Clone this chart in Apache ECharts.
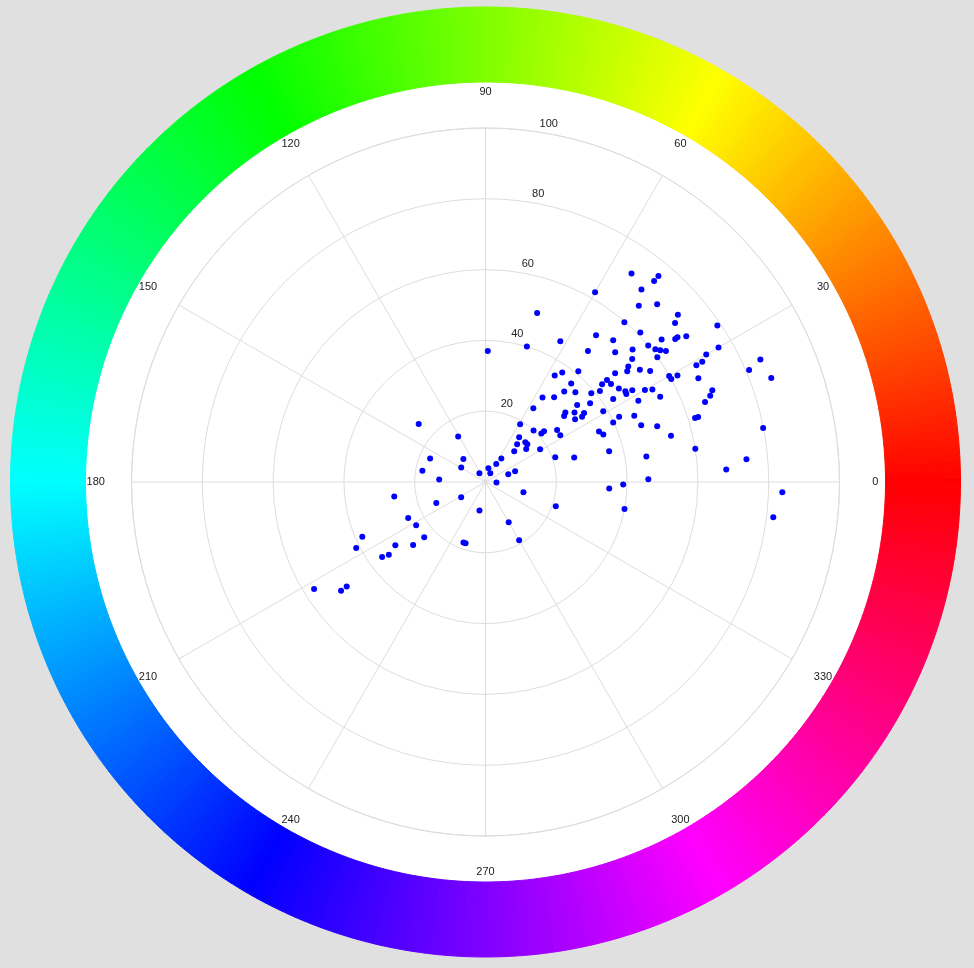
<!DOCTYPE html>
<html>
<head>
<meta charset="utf-8">
<script src="https://cdn.jsdelivr.net/npm/echarts@6/dist/echarts.min.js"></script>
<style>
html,body{margin:0;padding:0;background:#e0e0e0;}
#chart{width:974px;height:968px;}
</style>
</head>
<body>
<div id="chart"></div>
<script>
// Scatter data: radius (0-100) and angle (degrees)
const radiusValues = [
  61.9,49.9,51.9,45,40,37,47,71.9,76,74.1,70,66,69.8,72,69.9,79,59.8,60.8,53.9,64,67.1,67.9,70.1,51.8,55.9,60,60.9,61.8,63,54.1,60,72,76,85,80.9,85.9,
  35.9,37.8,40.8,36.9,33.9,35.9,39,41.3,28.8,30.8,33.8,37,24.8,29.9,29,31.9,34,32.9,30.9,19,19.9,20.9,21.9,25,24.9,35.1,15.8,13.9,15.9,15.9,14.8,11.9,18,8,20.9,26,
  51.9,50.8,47.8,53.9,56.1,68.1,70,59.9,60,62,66.9,44.8,43,45,46,47.1,46.9,48.9,52,53.9,54.9,48.9,43,69.1,68,66,38.8,42,46,39.8,46.8,51,61.9,62.8,35.9,54,36,46,60,
  79.9,74,68.1,83.9,81.9,
  5.9,4,2.8,6.8,8.9,3.1,11.1,21,13.1,19,
  35,38.9,46,40,
  25,15,17,9,8,18.1,13.1,3,26.1,8.1,
  15.1,8.2,24.1,23.1,38.1,23.3,41,31.1,27.1,34.2,36.1,18.2,18.2,57.1,49.1,51.1
];
const angleValues = [
  60,73,53,62,73,89,52,55,50,50,51,49,46,41,40,34,49,44,48,39,37,37,36,45,42,40,38,37,36,40,36,30,30,24,23,20,
  57,55,50,49,49,45,40,38.5,56,51,40,37,57,41,40,38,35,34,35,59,47,41,41,36,32,24,53,50,45,42,39,47,31,56,19.5,15.5,
  39,38,40,36,34,29,29,30,29,29,26,40,40,38,35,33,32,32,30,29,26,28,33,22,21,20,31,26,24,25,20,18,17,17,22,14,14,9,9,
  11,5,3,358,353,
  59,78,61,19,20,358,345,341,300,300,
  357,359,1,349,
  139,121,157,134,149,170,177,125,189,212,
  203,258,205,212,204,222,207,215,221,217,216,250,252,212,217,217
];
const radiusTicks = [0, 20, 40, 60, 80, 100];
const angleTicks = [0, 30, 60, 90, 120, 150, 180, 210, 240, 270, 300, 330];

const scatterData = radiusValues.map((r, i) => [r, angleValues[i]]);

// decorative hue ring: one slice per degree of hue
const hueSlices = [];
for (let h = 0; h < 360; h++) {
  const c = 'hsl(' + h + ',100%,50%)';
  hueSlices.push({ value: 1, itemStyle: { color: c, borderColor: c, borderWidth: 1 } });
}

const CENTER = [485.5, 482];
const R = 354;
const LABEL_RADIUS = 110.1; // angle labels sit just outside the 100 ring (in radius units)
const font = 'Liberation Sans, Arial, sans-serif';

const chart = echarts.init(document.getElementById('chart'));
chart.setOption({
  animation: false,
  backgroundColor: '#e0e0e0',
  polar: [
    { center: CENTER, radius: R },
    { center: CENTER, radius: R }
  ],
  angleAxis: [
    {
      polarIndex: 0, type: 'value', min: 0, max: 360, interval: 30,
      startAngle: 0, clockwise: false, z: 5,
      axisLine: { show: true, lineStyle: { color: '#dddddd', width: 1 } },
      axisTick: { show: false },
      splitLine: { show: true, lineStyle: { color: '#dddddd', width: 1 } },
      axisLabel: { show: false }
    },
    {
      polarIndex: 1, type: 'value', min: 0, max: 360,
      startAngle: 81.5, clockwise: false, z: 5,
      axisLine: { show: false }, axisTick: { show: false },
      splitLine: { show: false }, axisLabel: { show: false }
    }
  ],
  radiusAxis: [
    {
      polarIndex: 0, type: 'value', min: radiusTicks[0], max: radiusTicks[radiusTicks.length - 1], interval: 20, z: 5,
      axisLine: { show: false }, axisTick: { show: false },
      axisLabel: { show: false },
      splitLine: { show: true, lineStyle: { color: '#dddddd', width: 1 } }
    },
    {
      polarIndex: 1, type: 'value', min: radiusTicks[0], max: radiusTicks[radiusTicks.length - 1], interval: 20, z: 5,
      axisLine: { show: false }, axisTick: { show: false },
      splitLine: { show: false },
      axisLabel: {
        showMinLabel: false, margin: -11, color: '#222', fontSize: 11, fontFamily: font,
        align: 'center', verticalAlign: 'bottom', padding: [0, 0, 4, 0]
      }
    }
  ],
  series: [
    {
      type: 'pie', center: CENTER, radius: [0, 400], silent: true, z: 0,
      label: { show: false }, labelLine: { show: false },
      emphasis: { disabled: true },
      data: [{ value: 1, itemStyle: { color: '#ffffff' } }]
    },
    {
      type: 'pie', center: CENTER, radius: [400, 475], silent: true, z: 0,
      startAngle: -0.5, clockwise: false,
      label: { show: false }, labelLine: { show: false },
      emphasis: { disabled: true },
      data: hueSlices
    },
    {
      type: 'scatter', coordinateSystem: 'polar', polarIndex: 0, z: 10,
      symbolSize: 6,
      itemStyle: { color: '#0000ff', opacity: 1 },
      data: scatterData
    },
    {
      // angle tick labels, centred on the label ring
      type: 'scatter', coordinateSystem: 'polar', polarIndex: 0, z: 10,
      silent: true, clip: false, symbolSize: 0,
      itemStyle: { color: '#222', opacity: 1 },
      label: {
        show: true, position: 'inside', color: '#222', opacity: 1,
        textBorderWidth: 0, fontSize: 11, fontFamily: font,
        formatter: p => String(p.value[1])
      },
      data: angleTicks.map(a => [LABEL_RADIUS, a])
    }
  ]
});
</script>
</body>
</html>
